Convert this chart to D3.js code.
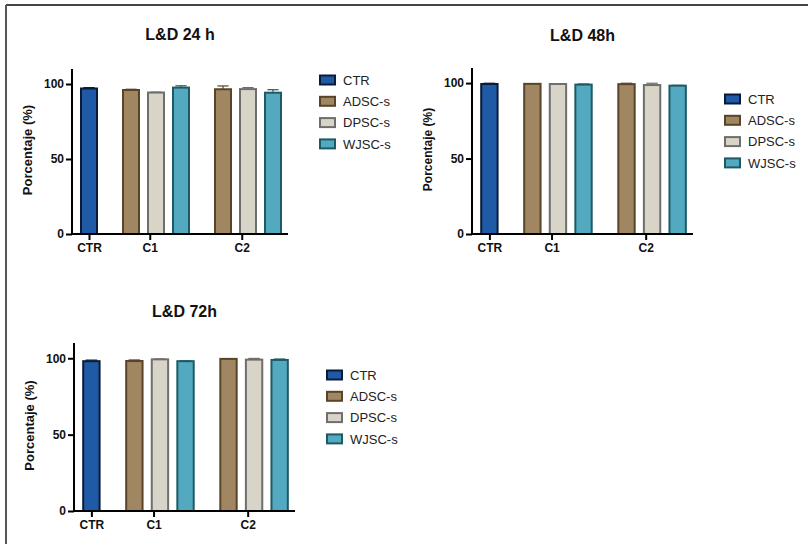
<!DOCTYPE html>
<html>
<head>
<meta charset="utf-8">
<script src="https://cdn.jsdelivr.net/npm/d3@7"></script>
<style>
  body { margin: 0; background: #fff; }
  svg text { font-family: "Liberation Sans", Arial, sans-serif; }
</style>
</head>
<body>
<div id="figure"></div>
<script>
// three bar panels of L&D viability (%) per treatment

// categories and series
var groups = ["CTR", "C1", "C2"];
var groupSizes = [1, 3, 3];
var series = ["CTR", "ADSC-s", "DPSC-s", "WJSC-s"];
var barSeries = ["CTR", "ADSC-s", "DPSC-s", "WJSC-s", "ADSC-s", "DPSC-s", "WJSC-s"];
var yTicks = [0, 50, 100];

// values (mean and upper error)
var means24 = [97, 96, 94.3, 97.6, 96.5, 96.6, 94.2];
var errors24 = [0.6, 0.5, 0.3, 1.2, 2.2, 1.0, 2.0];
var means48 = [99.4, 99.5, 99.4, 99.0, 99.3, 98.7, 98.3];
var errors48 = [0.5, 0.1, 0.1, 0.4, 0.6, 1.2, 0.2];
var means72 = [98.1, 98.2, 99.3, 98.1, 99.6, 99.1, 98.9];
var errors72 = [0.7, 0.7, 0.3, 0.2, 0.2, 0.8, 0.6];

// colours for each series
var fillColors = {"CTR": "#1f5aa6", "ADSC-s": "#a08661", "DPSC-s": "#d9d4c8", "WJSC-s": "#52a9c0"};
var strokeColors = {"CTR": "#0b1a38", "ADSC-s": "#5a4428", "DPSC-s": "#6e6e6c", "WJSC-s": "#1e5a66"};

var svgWidth = 808;
var svgHeight = 547;

var svg = d3.select("#figure")
  .append("svg")
  .attr("width", svgWidth)
  .attr("height", svgHeight);

// frame lines (top and left)
svg.append("line")
  .attr("x1", 6).attr("x2", svgWidth).attr("y1", 5).attr("y2", 5)
  .attr("stroke", "#444").attr("stroke-width", 2);
svg.append("line")
  .attr("x1", 6).attr("x2", 6).attr("y1", 5).attr("y2", 544)
  .attr("stroke", "#555").attr("stroke-width", 2);

// panel layout
var panels = [
  {title: "L&D 24 h", means: means24, errors: errors24, x0: 72, x1: 288, y0: 234, yTop: 69, titleY: 40, labelSize: 13, legendX: 319, legendY: 80},
  {title: "L&D 48h", means: means48, errors: errors48, x0: 472, x1: 693, y0: 234, yTop: 68, titleY: 41, labelSize: 12, legendX: 724, legendY: 99},
  {title: "L&D 72h", means: means72, errors: errors72, x0: 74, x1: 295, y0: 511, yTop: 343, titleY: 317, labelSize: 13, legendX: 326, legendY: 375}
];

// slot position of every bar: groups separated by a gap
var groupGap = 0.68;
var barSlots = [];
var tickSlots = [];
var start = 0;
groupSizes.forEach(function(size) {
  for (var i = 0; i < size; i++) {
    barSlots.push(start + i);
  }
  // Prism puts the group label a bit left of the group centre
  tickSlots.push(start + (size - 1) / 2 - (size > 1 ? 0.25 : 0));
  start += size + groupGap;
});
var barWidthSlots = 0.64;

panels.forEach(function(p) {
  var g = svg.append("g");

  var xscale = d3.scaleLinear()
    .domain([-groupGap, barSlots[barSlots.length - 1] + groupGap - 0.08])
    .range([p.x0, p.x1]);

  var yscale = d3.scaleLinear()
    .domain([0, 110])
    .range([p.y0, p.yTop]);

  var bw = xscale(barWidthSlots) - xscale(0);

  // title
  g.append("text")
    .attr("x", (p.x0 + p.x1) / 2)
    .attr("y", p.titleY)
    .attr("text-anchor", "middle")
    .attr("font-size", "16px")
    .attr("font-weight", "bold")
    .attr("fill", "#111")
    .text(p.title);

  // error bars (drawn under the bars)
  var errs = g.append("g");
  p.means.forEach(function(m, i) {
    var cx = xscale(barSlots[i]);
    var top = yscale(m + p.errors[i]);
    errs.append("line")
      .attr("x1", cx).attr("x2", cx)
      .attr("y1", yscale(m)).attr("y2", top)
      .attr("stroke", strokeColors[barSeries[i]]).attr("stroke-width", 1.2);
    errs.append("line")
      .attr("x1", cx - bw * 0.35).attr("x2", cx + bw * 0.35)
      .attr("y1", top).attr("y2", top)
      .attr("stroke", strokeColors[barSeries[i]]).attr("stroke-width", 1.2);
  });

  // bars
  g.append("g").selectAll("rect")
    .data(p.means)
    .enter()
    .append("rect")
    .attr("x", (d, i) => xscale(barSlots[i]) - bw / 2)
    .attr("y", d => yscale(d))
    .attr("width", bw)
    .attr("height", d => yscale(0) - yscale(d))
    .attr("fill", (d, i) => fillColors[barSeries[i]])
    .attr("stroke", (d, i) => strokeColors[barSeries[i]])
    .attr("stroke-width", 2);

  // y axis
  var leftAxis = d3.axisLeft(yscale)
    .tickValues(yTicks)
    .tickSize(6)
    .tickPadding(2);
  var yAxis = g.append("g")
    .attr("transform", `translate(${p.x0}, 0)`)
    .call(leftAxis);
  yAxis.select(".domain").remove();
  yAxis.append("line")
    .attr("x1", 0).attr("x2", 0)
    .attr("y1", yscale(110)).attr("y2", yscale(0) + 1)
    .attr("stroke", "#000").attr("stroke-width", 2);

  // x axis
  var bottomAxis = d3.axisBottom(xscale)
    .tickValues(tickSlots)
    .tickFormat((d, i) => groups[i])
    .tickSize(6)
    .tickPadding(3);
  var xAxis = g.append("g")
    .attr("transform", `translate(0, ${p.y0})`)
    .call(bottomAxis);
  xAxis.select(".domain").remove();
  xAxis.append("line")
    .attr("x1", p.x0 - 1).attr("x2", p.x1)
    .attr("y1", 0).attr("y2", 0)
    .attr("stroke", "#000").attr("stroke-width", 2);

  [yAxis, xAxis].forEach(function(ax) {
    ax.selectAll(".tick line").attr("stroke", "#000").attr("stroke-width", 2);
    ax.selectAll(".tick text")
      .attr("font-size", "12px")
      .attr("font-weight", "bold")
      .attr("font-family", "Liberation Sans, Arial, sans-serif")
      .attr("fill", "#111");
  });

  // y axis label
  g.append("text")
    .attr("transform", `translate(${p.x0 - 40}, ${yscale(56)}) rotate(-90)`)
    .attr("text-anchor", "middle")
    .attr("font-size", p.labelSize + "px")
    .attr("font-weight", "bold")
    .attr("fill", "#111")
    .text("Porcentaje (%)");

  // legend
  var legend = g.append("g")
    .attr("transform", `translate(${p.legendX}, ${p.legendY})`);
  series.forEach(function(s, i) {
    legend.append("rect")
      .attr("x", 1)
      .attr("y", i * 21.3 - 4.5)
      .attr("width", 15)
      .attr("height", 9)
      .attr("fill", fillColors[s])
      .attr("stroke", strokeColors[s])
      .attr("stroke-width", 2);
    legend.append("text")
      .attr("x", 24)
      .attr("y", i * 21.3 + 4.8)
      .attr("font-size", "13px")
      .attr("fill", "#222")
      .text(s);
  });
});
</script>
</body>
</html>
